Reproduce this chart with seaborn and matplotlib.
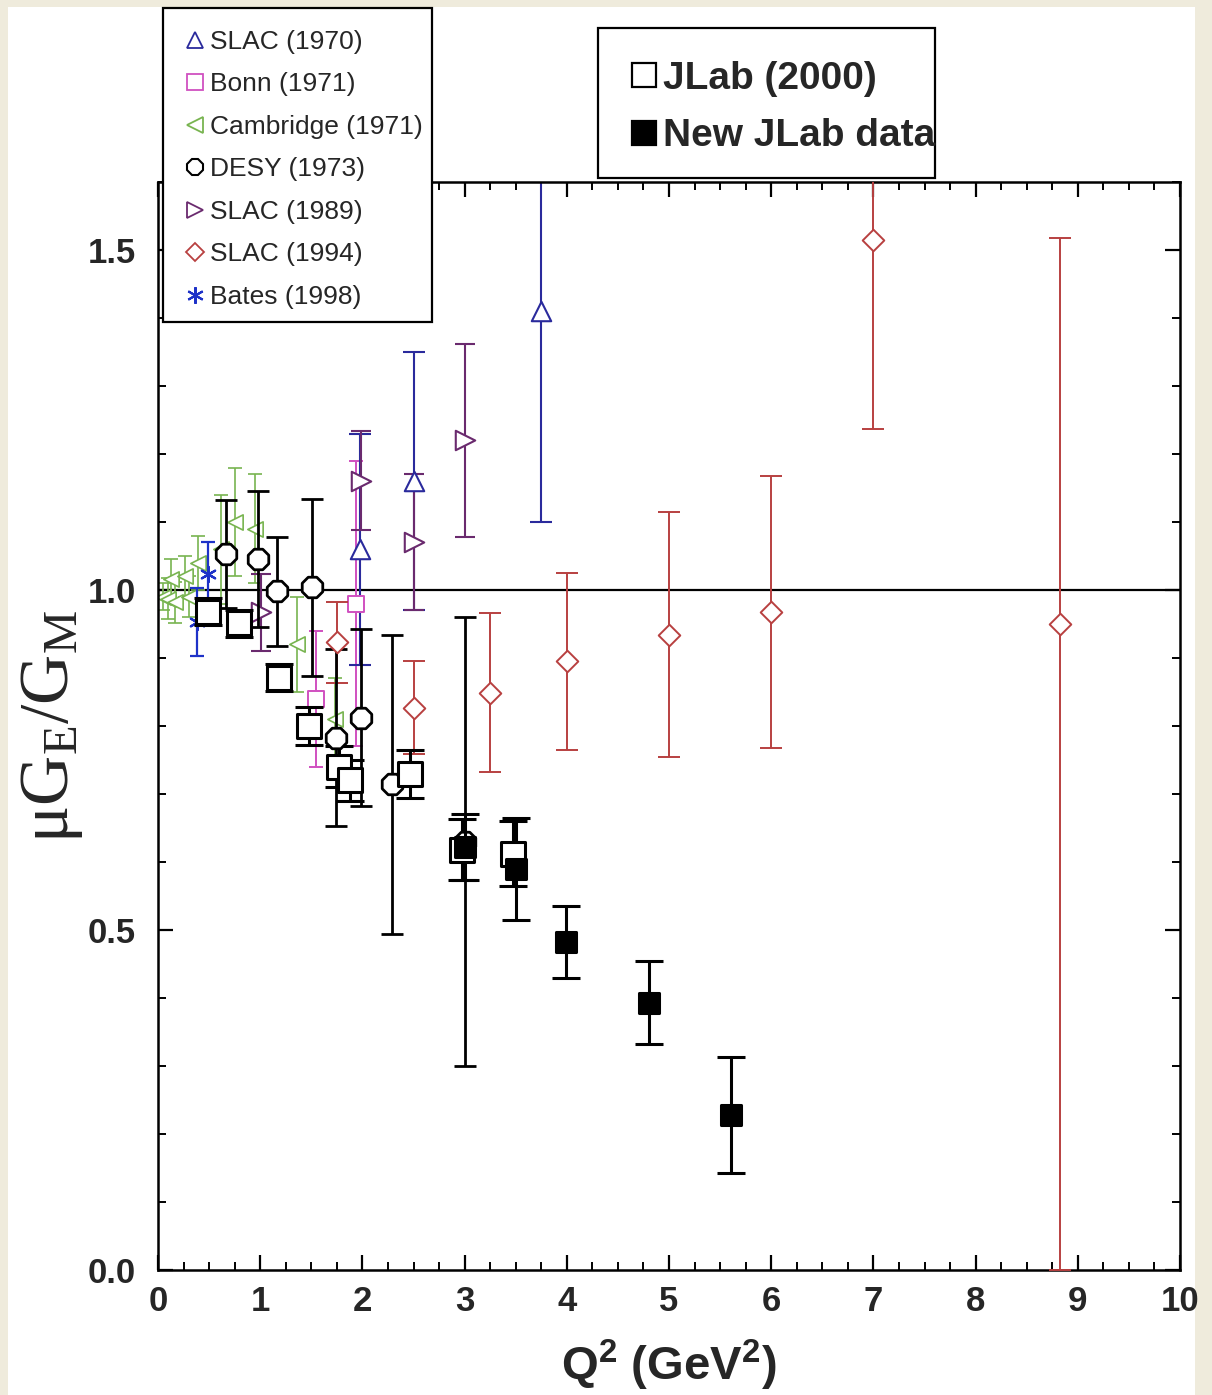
import numpy as np
import pandas as pd
import matplotlib
matplotlib.use("Agg")
import matplotlib.pyplot as plt
import seaborn as sns
from matplotlib.lines import Line2D
from matplotlib.patches import Rectangle
from matplotlib.ticker import MultipleLocator

# ---------------- data ----------------
slac70_q2 = [1.98, 2.50, 3.75]
slac70_r = [1.06, 1.16, 1.41]
slac70_err = [0.17, 0.19, 0.31]

bonn_q2 = [1.55, 1.94]
bonn_r = [0.84, 0.98]
bonn_err = [0.10, 0.21]

camb_q2 = [0.05, 0.10, 0.13, 0.17, 0.26, 0.30, 0.39, 0.62, 0.75, 0.95, 1.36, 1.73]
camb_r = [0.99, 0.987, 1.016, 0.982, 1.02, 0.99, 1.04, 1.06, 1.10, 1.09, 0.92, 0.81]
camb_err = [0.02, 0.03, 0.03, 0.03, 0.03, 0.03, 0.04, 0.08, 0.08, 0.08, 0.07, 0.06]

desy_q2 = [0.665, 0.98, 1.16, 1.51, 1.74, 1.99, 2.29, 3.00]
desy_r = [1.053, 1.046, 0.998, 1.004, 0.783, 0.812, 0.714, 0.63]
desy_err = [0.08, 0.10, 0.08, 0.13, 0.13, 0.13, 0.22, 0.33]

slac89_q2 = [1.01, 1.99, 2.50, 3.00]
slac89_r = [0.967, 1.161, 1.071, 1.22]
slac89_err = [0.056, 0.073, 0.10, 0.142]

slac94_q2 = [1.75, 2.50, 3.25, 4.00, 5.00, 6.00, 7.00, 8.83]
slac94_r = [0.923, 0.827, 0.849, 0.895, 0.934, 0.967, 1.514, 0.950]
slac94_err_lo = [0.06, 0.068, 0.117, 0.13, 0.18, 0.20, 0.277, 0.95]
slac94_err_hi = [0.06, 0.068, 0.117, 0.13, 0.18, 0.20, 0.277, 0.567]

bates_q2 = [0.38, 0.49]
bates_r = [0.953, 1.024]
bates_err = [0.05, 0.047]

jlab00_q2 = [0.49, 0.79, 1.18, 1.48, 1.77, 1.88, 2.47, 2.97, 3.47]
jlab00_r = [0.968, 0.951, 0.871, 0.80, 0.74, 0.72, 0.729, 0.618, 0.612]
jlab00_err = [0.02, 0.02, 0.02, 0.028, 0.03, 0.03, 0.035, 0.045, 0.048]

jlabnew_q2 = [3.00, 3.50, 3.99, 4.80, 5.61]
jlabnew_r = [0.622, 0.589, 0.483, 0.393, 0.228]
jlabnew_err = [0.048, 0.075, 0.053, 0.061, 0.085]

x_ticks = [0, 1, 2, 3, 4, 5, 6, 7, 8, 9, 10]
y_ticks = [0.0, 0.5, 1.0, 1.5]

# ---------------- style ----------------
W, H = 1212, 1395
sns.set_theme(style="ticks")
plt.rcParams["font.family"] = ["Liberation Sans", "DejaVu Sans"]
plt.rcParams["mathtext.fontset"] = "custom"
plt.rcParams["mathtext.rm"] = "Liberation Sans"
plt.rcParams["mathtext.bf"] = "Liberation Sans:bold"

fig = plt.figure(figsize=(W / 100, H / 100), dpi=100, facecolor="#efebdc")
# white page area
fig.patches.append(Rectangle((8 / W, 0), (1195 - 8) / W, 1 - 7 / H,
                             transform=fig.transFigure, facecolor="white",
                             edgecolor="none", zorder=-10))

ax = fig.add_axes([158 / W, (H - 1270) / H, (1180 - 158) / W, (1270 - 182) / H])
ax.set_facecolor("white")

ax.axhline(1.0, color="black", lw=1.6, zorder=1)

C_SLAC70 = "#2a2a9c"
C_BONN = "#d050c0"
C_CAMB = "#78b450"
C_DESY = "black"
C_SLAC89 = "#6a2a6e"
C_SLAC94 = "#b84040"
C_BATES = "#1e32c8"


def draw(q, r, err, color, marker, ms, lw, capsize, ecolor=None, face="white", elw=None, z=3):
    ax.errorbar(q, r, yerr=err, fmt="none", ecolor=ecolor or color,
                elinewidth=elw or lw, capsize=capsize, capthick=elw or lw, zorder=z)
    df = pd.DataFrame({"q2": q, "r": r})
    mk = matplotlib.markers.MarkerStyle(marker)
    if mk.is_filled():
        sns.scatterplot(data=df, x="q2", y="r", ax=ax, marker=marker, s=ms ** 2,
                        color=face, edgecolor=color, linewidth=lw, zorder=z + 0.5,
                        legend=False)
    else:
        sns.scatterplot(data=df, x="q2", y="r", ax=ax, marker=marker, s=ms ** 2,
                        color=color, linewidth=lw, zorder=z + 0.5, legend=False)


draw(camb_q2, camb_r, camb_err, C_CAMB, "<", 11, 1.2, 5, z=2)
draw(bonn_q2, bonn_r, bonn_err, C_BONN, "s", 12, 1.4, 5, z=2.2)
draw(slac70_q2, slac70_r, slac70_err, C_SLAC70, "^", 14, 1.5, 8, z=2.4)
draw(slac89_q2, slac89_r, slac89_err, C_SLAC89, ">", 14, 1.5, 7, z=2.6)
draw(slac94_q2, slac94_r, [slac94_err_lo, slac94_err_hi], C_SLAC94, "D", 11, 1.4, 8, z=2.8)
draw(bates_q2, bates_r, bates_err, C_BATES, (6, 2, 0), 11, 1.6, 5, z=3)
draw(desy_q2, desy_r, desy_err, C_DESY, "8", 16, 2.0, 8, z=3.2)
draw(jlab00_q2, jlab00_r, jlab00_err, "black", "s", 17, 2.2, 10, z=3.6)
draw(jlabnew_q2, jlabnew_r, jlabnew_err, "black", "s", 15, 2.2, 10, face="black", z=3.8)

ax.set_xlim(0, 10)
ax.set_ylim(0, 1.6)
ax.set_xticks(x_ticks)
ax.set_yticks(y_ticks)
ax.set_xticklabels([str(t) for t in x_ticks])
ax.set_yticklabels([f"{t:.1f}" for t in y_ticks])
ax.xaxis.set_minor_locator(MultipleLocator(0.25))
ax.yaxis.set_minor_locator(MultipleLocator(0.1))
ax.tick_params(which="both", direction="in", top=True, right=True, color="black")
ax.tick_params(which="major", length=11, width=1.6)
ax.tick_params(which="minor", length=6, width=1.4)
ax.tick_params(axis="y", which="major", pad=16, labelsize=25)
ax.tick_params(axis="x", which="major", pad=11, labelsize=25)
for lab in ax.get_xticklabels() + ax.get_yticklabels():
    lab.set_fontweight("bold")
for s in ax.spines.values():
    s.set_color("black")
    s.set_linewidth(1.8)

ax.set_xlabel(r"Q$\mathregular{^2}$ (GeV$\mathregular{^2}$)", fontsize=34,
              fontweight="bold", labelpad=14)
ax.set_ylabel("μG$\\mathregular{_E}$/G$\\mathregular{_M}$", fontsize=50,
              family=["Liberation Serif", "DejaVu Serif"], labelpad=2)

# ---------------- legends ----------------
fig.patches.append(Rectangle((163 / W, 1 - 322 / H), (432 - 163) / W, (322 - 8) / H,
                             transform=fig.transFigure, facecolor="white",
                             edgecolor="black", linewidth=1.6, zorder=4))
fig.patches.append(Rectangle((598 / W, 1 - 178 / H), (935 - 598) / W, (178 - 28) / H,
                             transform=fig.transFigure, facecolor="white",
                             edgecolor="black", linewidth=1.6, zorder=4))

h1 = [
    Line2D([], [], ls="none", marker="^", ms=12, mfc="white", mec=C_SLAC70, mew=1.3),
    Line2D([], [], ls="none", marker="s", ms=11, mfc="white", mec=C_BONN, mew=1.3),
    Line2D([], [], ls="none", marker="<", ms=12, mfc="white", mec=C_CAMB, mew=1.3),
    Line2D([], [], ls="none", marker="8", ms=13, mfc="white", mec="black", mew=1.5),
    Line2D([], [], ls="none", marker=">", ms=12, mfc="white", mec=C_SLAC89, mew=1.3),
    Line2D([], [], ls="none", marker="D", ms=9, mfc="white", mec=C_SLAC94, mew=1.3),
    Line2D([], [], ls="none", marker=(6, 2, 0), ms=12, color=C_BATES, mew=1.5),
]
l1 = ["SLAC (1970)", "Bonn (1971)", "Cambridge (1971)", "DESY (1973)",
      "SLAC (1989)", "SLAC (1994)", "Bates (1998)"]
leg1 = fig.legend(h1, l1, loc="upper left", bbox_to_anchor=(184 / W, 1 - 30 / H),
                  frameon=False, fontsize=19, borderpad=0, borderaxespad=0,
                  handlelength=0.8, handletextpad=0.2, labelspacing=0.7)
leg1.set_zorder(6)

h2 = [
    Line2D([], [], ls="none", marker="s", ms=17, mfc="white", mec="black", mew=1.6),
    Line2D([], [], ls="none", marker="s", ms=17, mfc="black", mec="black", mew=1.6),
]
l2 = ["JLab (2000)", "New JLab data"]
leg2 = fig.legend(h2, l2, loc="upper left", bbox_to_anchor=(632 / W, 1 - 61 / H),
                  frameon=False, prop={"size": 28, "weight": "bold"}, borderpad=0,
                  borderaxespad=0, handlelength=0.6, handletextpad=0.2,
                  labelspacing=0.55)
leg2.set_zorder(6)

fig.savefig("out.png", dpi=100, facecolor=fig.get_facecolor())
